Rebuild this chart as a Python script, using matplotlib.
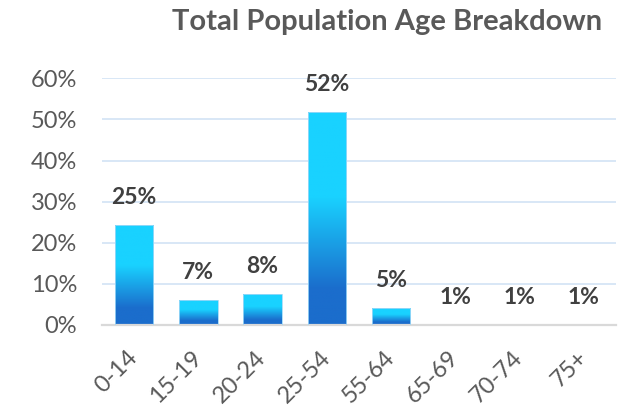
import matplotlib
matplotlib.use("Agg")
import matplotlib.pyplot as plt
import matplotlib.transforms as mtransforms
import numpy as np
from matplotlib.colors import to_rgb

AGE_GROUPS = ["0-14", "15-19", "20-24", "25-54", "55-64", "65-69", "70-74", "75+"]
SHARES = [24.3, 6.2, 7.5, 51.9, 4.2, 0.1, 0.0, 0.1]
SHARE_LABELS = ["25%", "7%", "8%", "52%", "5%", "1%", "1%", "1%"]
Y_TICKS = [0, 10, 20, 30, 40, 50, 60]
TITLE = "Total Population Age Breakdown"

FONT = ["Lato", "DejaVu Sans"]
TOP = np.array(to_rgb("#19d2ff"))
BOTTOM = np.array(to_rgb("#1b6dcc"))


def gradient_image(n=256):
    # t = 0 at the bottom of the bar, 1 at the top
    t = np.linspace(0, 1, n)
    w = np.clip((t - 0.17) / 0.43, 0, 1)[:, None]
    rgb = BOTTOM * (1 - w) + TOP * w
    return rgb[:, None, :]


plt.rcParams["font.family"] = FONT
fig = plt.figure(figsize=(6.24, 4.07), dpi=100)
ax = fig.add_axes([0.1635, 0.2015, 0.8235, 0.606])

x = np.arange(len(AGE_GROUPS))
bars = ax.bar(x, SHARES, width=0.6, color="none", edgecolor="none", zorder=2)
img = gradient_image()
for bar in bars:
    h = bar.get_height()
    if h <= 0:
        continue
    x0 = bar.get_x()
    im = ax.imshow(img, extent=[x0, x0 + bar.get_width(), 0, h], origin="lower",
                   aspect="auto", zorder=2)
    im.set_clip_path(bar)
    ax.bar(bar.get_x() + bar.get_width() / 2, h, width=bar.get_width(), color="none",
           edgecolor="#9fd8f7", linewidth=0.6, zorder=3)

for xi, value, label in zip(x, SHARES, SHARE_LABELS):
    ax.annotate(label, (xi, value), xytext=(0, 12), textcoords="offset points",
                ha="center", va="bottom", fontsize=16.5, fontweight="bold", color="#404040")

ax.set_xlim(-0.5, len(AGE_GROUPS) - 0.5)
ax.set_ylim(0, 60)
ax.set_yticks(Y_TICKS)
ax.set_yticklabels([f"{v}%" for v in Y_TICKS], fontsize=17, color="#595959")
ax.set_xticks(x)
ax.set_xticklabels(AGE_GROUPS, fontsize=17, color="#595959", rotation=45, ha="right",
                   va="center", rotation_mode="anchor")
shift = mtransforms.ScaledTranslation(-4 / 100, 0, fig.dpi_scale_trans)
for lab in ax.get_xticklabels():
    lab.set_transform(lab.get_transform() + shift)
ax.tick_params(axis="both", length=0)
ax.tick_params(axis="y", pad=18)
ax.tick_params(axis="x", pad=21)
ax.yaxis.grid(True, color="#d5e5f6", linewidth=1.3, zorder=0)
ax.set_axisbelow(True)
for side in ["top", "right", "left"]:
    ax.spines[side].set_visible(False)
ax.spines["bottom"].set_color("#d9d9d9")
ax.spines["bottom"].set_linewidth(1.6)

fig.text(0.621, 0.945, TITLE, ha="center", va="center", fontsize=21, fontweight="bold",
         color="#595959")
fig.savefig("out.png", dpi=100)
